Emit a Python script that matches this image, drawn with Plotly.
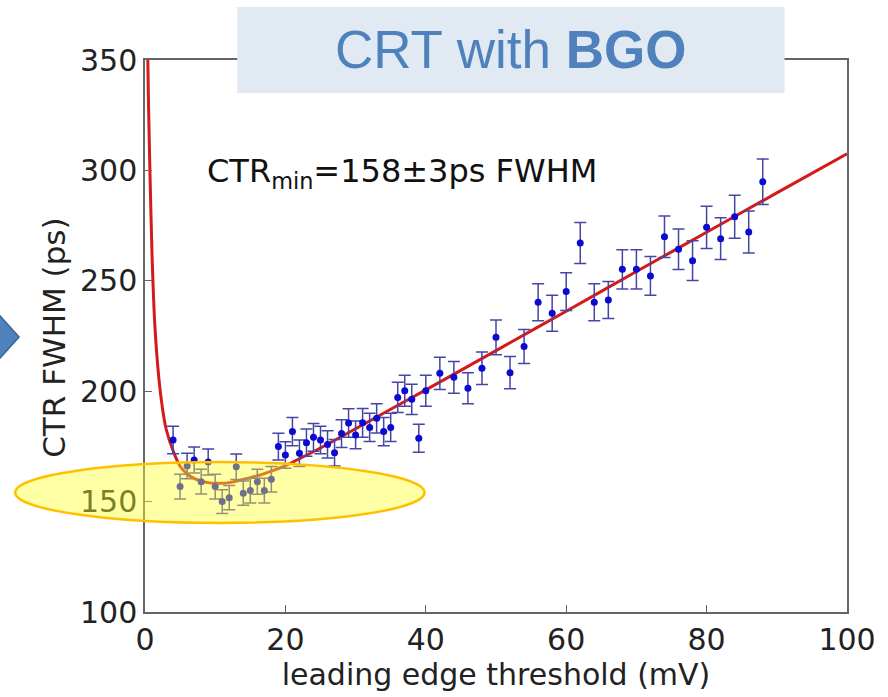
import plotly.graph_objects as go

# measured data (threshold in mV, CTR FWHM in ps)
thr = [4, 5, 6, 7, 8, 9, 10, 11, 12, 13, 14, 15, 16, 17, 18, 19, 20, 21, 22, 23, 24,
       25, 26, 27, 28, 29, 30, 31, 32, 33, 34, 35, 36, 37, 38, 39, 40,
       42, 44, 46, 48, 50, 52, 54, 56, 58, 60, 62, 64, 66, 68, 70, 72, 74, 76, 78,
       80, 82, 84, 86, 88]
ctr = [177.9, 156.8, 166.1, 168.8, 159.0, 167.9, 156.8, 150.0, 151.8, 165.8, 153.8,
       155.0, 159.0, 155.0, 160.1, 174.9, 171.1, 181.7, 171.9, 176.7, 179.1,
       177.9, 175.9, 172.1, 180.8, 185.6, 180.2, 185.7, 183.6, 187.7, 181.7, 183.6,
       197.2, 200.2, 196.3, 178.7, 200.2,
       208.1, 206.3, 201.3, 210.4, 224.4, 208.4, 220.2, 240.3, 235.3, 245.1, 267.1,
       240.3, 241.3, 255.2, 255.2, 252.2, 270.0, 264.3, 259.1, 274.2, 269.1, 279.0,
       272.1, 294.9]
err = [6.2, 5.6, 5.8, 5.9, 5.6, 5.9, 5.6, 5.4, 5.5, 5.8, 5.5, 5.6, 5.7, 5.6, 5.8, 6.1,
       6.0, 6.4, 6.0, 6.2, 6.3, 6.2, 6.2, 6.0, 6.3, 6.5, 6.3, 6.5, 6.4, 6.6, 6.4, 6.4,
       6.9, 7.0, 6.9, 6.3, 7.0,
       7.3, 7.2, 7.0, 7.4, 7.9, 7.3, 7.7, 8.4, 8.2, 8.6, 9.3, 8.4, 8.4, 8.9, 8.9, 8.8,
       9.4, 9.2, 9.0, 9.6, 9.4, 9.7, 9.5, 10.3]

# fitted curve
fit_x = [0.4, 0.5, 0.7, 1.0, 1.4, 2.0, 2.5, 3.0, 4.0, 5.0, 6.0, 7.0, 8.0, 9.0, 10, 11,
         12, 13, 14, 15, 16, 17, 18, 19, 20, 22, 25, 30, 35, 40, 50, 60, 70, 80, 90, 100]
fit_y = [350, 330, 300, 262, 230, 205, 192, 183, 173, 166, 162.5, 160.5, 159.3, 158.6,
         158.3, 158.3, 158.6, 159.2, 160.0, 160.8, 161.7, 162.7, 163.8, 165.0, 166.3,
         169.4, 174.3, 183.0, 191.8, 200.6, 218.4, 236.2, 254.2, 272.0, 289.8, 307.5]

x_ticks = [0, 20, 40, 60, 80, 100]
y_ticks = [100, 150, 200, 250, 300, 350]

W, H = 888, 697
L, R, T, B = 145, 35, 60, 85
PW, PH = W - L - R, H - T - B


def px(xp):
    return (xp - L) / PW


def py(yp):
    return (H - B - yp) / PH


fig = go.Figure()
fig.add_trace(go.Scatter(x=fit_x, y=fit_y, mode="lines",
                         line=dict(color="#D41A1A", width=3, shape="spline", smoothing=0.6),
                         hoverinfo="skip", showlegend=False))
fig.add_trace(go.Scatter(x=thr, y=ctr, mode="markers",
                         marker=dict(color="#0A0AD0", size=7),
                         error_y=dict(type="data", array=err, color="#4545A5",
                                      thickness=1.5, width=6),
                         showlegend=False))

font_main = "DejaVu Sans"
fig.update_layout(
    width=W, height=H,
    margin=dict(l=L, r=R, t=T, b=B, pad=0),
    paper_bgcolor="white", plot_bgcolor="white",
    font=dict(family=font_main, size=30, color="#222"),
    xaxis=dict(range=[0, 100], tickvals=x_ticks, ticks="inside", ticklen=7,
               tickcolor="#666", showgrid=False, zeroline=False, showline=True,
               linecolor="#666", linewidth=1.5, mirror=True,
               tickfont=dict(size=30, color="#222"),
               title=dict(text="leading edge threshold (mV)", standoff=4,
                          font=dict(size=30, color="#222"))),
    yaxis=dict(range=[100, 350], tickvals=y_ticks, ticks="inside", ticklen=7,
               tickcolor="#666", showgrid=False, zeroline=False, showline=True,
               linecolor="#666", linewidth=1.5, mirror=True,
               tickfont=dict(size=30, color="#222")),
    shapes=[
        dict(type="rect", xref="paper", yref="paper", layer="above",
             x0=px(238), x1=px(790), y0=py(93), y1=py(7),
             fillcolor="#E1E9F3", line=dict(width=0)),
        dict(type="circle", xref="paper", yref="paper", layer="above",
             x0=px(14), x1=px(427), y0=py(523), y1=py(462),
             fillcolor="rgba(255,255,40,0.42)", line=dict(color="#FFC000", width=2.5)),
        dict(type="path", xref="paper", yref="paper", layer="above",
             path=f"M {px(-25)},{py(290)} L {px(18)},{py(337)} L {px(-25)},{py(384)} Z",
             fillcolor="#4F81BD", line=dict(color="#3A6596", width=1.5)),
    ],
    annotations=[
        dict(text="CTR FWHM (ps)", xref="paper", yref="paper", textangle=-90,
             x=px(53), y=py(338), xanchor="center", yanchor="middle", showarrow=False,
             font=dict(family=font_main, size=31, color="#222")),
        dict(text="CRT with <b>BGO</b>", xref="paper", yref="paper",
             x=px(514), y=py(50), xanchor="center", yanchor="middle", showarrow=False,
             font=dict(family="Liberation Sans, Arial", size=53, color="#4F81BD")),
        dict(text="CTR<sub>min</sub>=158±3ps FWHM", xref="paper", yref="paper",
             x=px(206), y=py(173), xanchor="left", yanchor="middle", showarrow=False,
             font=dict(family=font_main, size=32, color="#111")),
    ],
)

fig.write_html("out.html")
